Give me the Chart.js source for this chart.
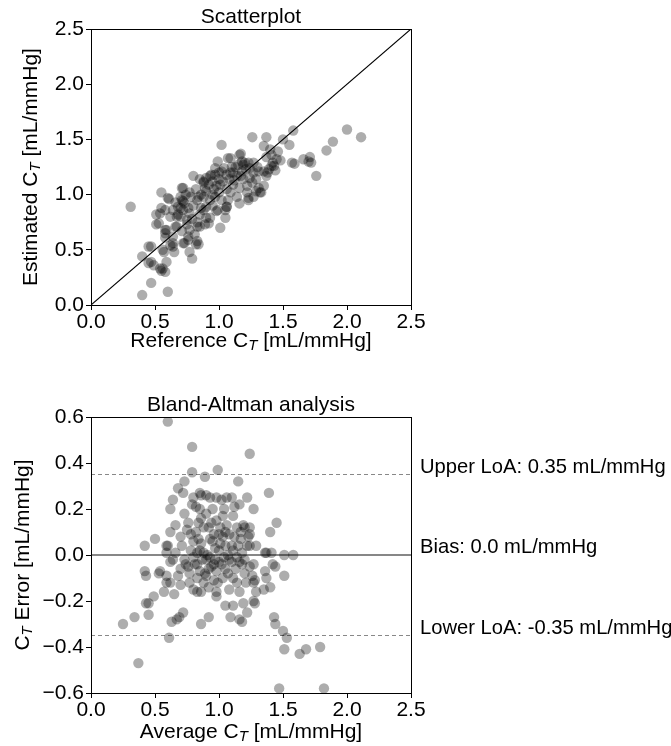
<!DOCTYPE html>
<html>
<head>
<meta charset="utf-8">
<script src="https://cdn.jsdelivr.net/npm/chart.js@4.4.1/dist/chart.umd.min.js"></script>
<style>
  html, body { margin: 0; padding: 0; background: #fff; }
  #wrap { position: relative; width: 671px; height: 746px; }
  canvas { position: absolute; left: 0; }
</style>
</head>
<body>
<div id="wrap">
  <canvas id="scatterCanvas" width="671" height="373" style="top:0"></canvas>
  <canvas id="baCanvas" width="671" height="373" style="top:373px"></canvas>
</div>
<script>
// Reference vs. estimated total arterial compliance C_T (mL/mmHg)
const referenceCT = [
  0.31,0.40,0.60,0.47,0.40,0.47,0.45,0.54,0.59,0.55,0.58,0.57,0.65,0.77,0.79,0.83,0.82,0.73,0.64,0.58,
  0.62,0.53,0.51,0.55,0.55,0.61,0.58,0.59,0.58,0.76,0.72,0.76,0.84,0.64,0.64,0.56,0.49,0.45,0.56,0.47,
  1.26,1.37,1.58,1.50,1.02,1.89,1.35,1.40,1.46,1.55,1.84,1.16,1.41,1.71,1.09,0.99,1.19,1.23,1.27,1.37,
  1.45,1.42,1.57,1.59,1.66,1.70,1.18,1.20,1.76,2.00,2.11,1.07,1.17,1.48,1.43,1.38,1.72,
  1.21,1.41,1.39,1.31,1.35,1.37,1.14,1.11,1.09,1.06,0.97,0.93,0.90,0.80,1.27,1.18,1.02,1.24,0.88,1.00,
  1.03,0.98,1.01,1.19,1.26,1.29,1.35,1.16,1.22,0.96,0.72,1.06,1.11,0.89,0.92,0.85,0.94,0.88,0.71,
  0.77,0.70,0.71,0.73,0.93,0.97,1.02,1.09,1.14,1.22,1.32,1.27,1.23,1.16,1.07,0.68,0.83,0.88,0.60,0.72,
  0.84,0.90,0.72,0.70,0.68,0.85,0.88,0.90,0.99,1.05,1.06,1.05,0.93,0.77,0.86,0.98,0.70,0.67,0.54,
  0.67,0.75,0.77,0.83,0.92,0.89,1.01,0.51,0.71,0.58,0.66,0.75,0.85,
  0.95,1.00,1.04,1.13,1.17,1.24,0.82,0.78,0.86,0.95,1.00,0.80,0.76,0.62,0.64,0.79,0.95,1.12,1.30,1.44,
  0.74,0.66,0.97,1.08,1.31,1.33,1.29,1.23,1.06,0.90,0.83,0.81,1.10,1.15
];
const estimatedCT = [
  0.89,0.09,0.12,0.20,0.44,0.53,0.38,0.33,0.39,0.31,0.30,0.48,0.48,0.48,0.42,0.58,0.55,0.56,0.56,0.61,
  0.54,0.74,0.82,0.88,1.02,0.96,0.86,0.68,0.65,0.62,0.56,0.59,0.55,0.62,0.53,0.50,0.36,0.53,0.33,0.39,
  1.52,1.52,1.58,1.50,1.45,1.48,1.44,1.41,1.39,1.45,1.40,1.36,1.36,1.34,1.33,1.30,1.27,1.29,1.29,1.34,
  1.32,1.29,1.29,1.28,1.32,1.30,1.30,1.29,1.17,1.59,1.52,1.33,1.37,1.31,1.26,1.20,1.29,
  1.23,1.26,1.23,1.21,1.21,1.17,1.17,1.20,1.20,1.18,1.18,1.17,1.15,1.17,1.20,1.21,1.21,1.15,1.11,1.14,
  1.12,1.08,1.09,1.14,1.11,1.14,1.08,1.06,1.08,1.05,1.06,1.05,1.09,1.06,1.09,1.14,1.18,1.12,1.06,
  1.02,0.98,0.95,0.92,0.95,0.98,0.95,1.02,0.98,1.02,1.02,0.98,0.95,0.92,0.95,0.89,0.95,0.98,0.97,0.94,
  0.98,1.03,0.86,0.80,0.82,0.82,0.86,0.89,0.86,0.86,0.89,0.79,0.79,0.83,0.88,0.85,0.88,0.80,0.83,
  0.71,0.77,0.68,0.71,0.74,0.73,0.70,0.73,0.67,0.68,0.71,0.73,0.71,
  1.12,1.20,1.24,1.25,1.17,1.24,1.05,0.98,1.00,1.00,1.02,0.90,0.88,0.80,0.86,0.78,0.90,1.13,1.25,1.22,
  1.00,0.93,1.24,1.14,1.06,1.02,1.03,0.97,0.89,0.79,0.75,0.64,1.25,1.27
];

// Bland-Altman: mean of both methods and estimation error
const averageCT = [
  0.60,0.79,1.24,0.79,0.89,0.99,1.15,0.73,0.68,0.64,0.62,0.72,0.80,0.85,0.90,0.98,1.02,1.06,1.10,1.22,
  1.39,1.27,1.45,1.40,0.79,0.82,0.90,0.98,1.01,1.06,1.03,1.11,1.14,1.20,1.24,1.22,1.10,1.01,0.93,0.86,
  0.80,0.76,0.75,0.70,0.62,0.66,0.60,0.50,0.42,0.71,0.83,0.85,1.36,1.41,1.29,1.37,1.51,1.58,0.66,0.84,
  0.93,0.86,1.19,1.24,1.23,1.05,1.15,1.24,0.97,0.88,0.59,0.59,0.84,0.96,1.08,1.17,0.92,1.12,0.95,1.00,
  1.18,0.78,0.91,1.07,
  0.42,0.54,0.62,0.70,0.77,0.83,0.90,0.96,1.05,1.18,1.27,1.36,1.42,1.37,1.51,1.28,1.40,1.35,1.29,1.27,
  1.43,1.44,1.50,1.53,1.51,1.63,1.68,1.79,1.47,1.82,
  0.43,0.53,0.59,0.64,0.74,0.81,0.59,0.62,0.70,0.77,0.80,0.83,0.57,0.65,0.49,0.43,0.45,0.45,0.34,0.25,
  0.72,0.69,0.67,0.63,0.86,0.61,0.37,
  0.89,0.94,0.98,1.03,1.02,1.10,1.24,1.11,1.14,1.16,1.26,1.27,0.98,0.98,0.86,1.28,1.05,1.11,1.19,1.22,
  1.09,1.16,1.18,0.92,0.96,1.44,
  0.87,0.93,1.00,1.08,1.14,0.80,0.73,1.20,0.85,1.13,0.99,0.92,
  0.82,0.88,0.94,1.00,1.05,1.12,1.17,0.78,0.86,1.03,0.90,0.97,1.04,1.11,1.16,0.83,0.92,1.07,1.20,0.76,
  0.68,0.88,1.08,1.21,0.73,0.85,1.04,1.16,0.95
];
const errorCT = [
  0.58,0.47,0.44,0.36,0.34,0.37,0.32,0.32,0.29,0.24,0.20,0.27,0.25,0.27,0.26,0.25,0.24,0.25,0.25,0.25,
  0.27,0.20,0.14,0.10,0.22,0.21,0.18,0.15,0.12,0.13,0.08,0.17,0.12,0.12,0.09,0.04,0.04,0.05,0.07,0.05,
  0.06,0.14,0.11,0.08,0.10,0.01,0.04,0.07,0.04,0.04,0.01,0.02,0.01,0.01,0.04,0.01,0.00,0.00,0.13,0.14,
  0.25,0.26,0.13,0.12,0.08,0.04,0.04,0.04,0.03,0.01,0.01,0.04,0.07,0.09,0.09,0.07,0.12,0.21,0.20,0.02,
  0.01,0.02,0.00,0.00,
  -0.07,-0.07,-0.03,-0.06,-0.08,-0.04,-0.09,-0.04,-0.06,-0.04,-0.04,-0.07,-0.04,-0.10,-0.09,-0.11,-0.14,-0.15,-0.16,-0.20,
  -0.27,-0.30,-0.33,-0.36,-0.41,-0.43,-0.41,-0.40,-0.58,-0.58,
  -0.09,-0.08,-0.09,-0.02,-0.04,-0.04,-0.12,-0.12,-0.13,-0.12,-0.15,-0.16,-0.16,-0.17,-0.18,-0.21,-0.21,-0.26,-0.27,-0.30,
  -0.25,-0.27,-0.28,-0.29,-0.30,-0.36,-0.47,
  -0.08,-0.05,-0.07,-0.10,-0.04,-0.03,-0.05,-0.10,-0.12,-0.16,-0.09,-0.12,-0.16,-0.18,-0.16,-0.21,-0.22,-0.22,-0.21,-0.25,
  -0.27,-0.28,-0.29,-0.27,-0.11,-0.05,
  -0.02,-0.01,-0.03,-0.02,-0.01,-0.01,-0.02,-0.02,-0.07,-0.06,-0.12,-0.14,
  0.10,0.12,0.14,0.09,0.10,0.08,0.10,0.09,0.16,0.17,-0.02,-0.02,-0.01,0.02,-0.03,-0.10,-0.06,-0.08,-0.08,-0.05,
  -0.09,-0.12,-0.15,-0.12,0.18,0.20,0.20,0.22,0.06
];

const xTickValues = [0.0, 0.5, 1.0, 1.5, 2.0, 2.5];
const scatterYTickValues = [0.0, 0.5, 1.0, 1.5, 2.0, 2.5];
const errorTickValues = [-0.6, -0.4, -0.2, 0.0, 0.2, 0.4, 0.6];
const identityLine = [0.0, 2.5];
const meanBias = 0.0;
const upperLoA = 0.35;
const lowerLoA = -0.35;

const FONT = '"Liberation Sans", Arial, Helvetica, sans-serif';
const TEXT_SIZE = 21;
const NOTE_SIZE = 20.2;
const DOT = 'rgba(0,0,0,0.32)';

function fmtTick(v) {
  const s = Math.abs(v).toFixed(1);
  return v < -1e-9 ? '\u2212' + s : s;
}

// Text with a subscript "T" after the C
function drawRich(ctx, parts, x, y, rotate) {
  ctx.save();
  ctx.translate(x, y);
  if (rotate) ctx.rotate(-Math.PI / 2);
  const normal = `${TEXT_SIZE}px ${FONT}`;
  const sub = `italic ${Math.round(TEXT_SIZE * 0.7)}px ${FONT}`;
  let total = 0;
  const widths = parts.map(p => {
    ctx.font = p.sub ? sub : normal;
    const w = ctx.measureText(p.t).width;
    total += w;
    return w;
  });
  let cx = -total / 2;
  ctx.fillStyle = '#000';
  ctx.textBaseline = 'middle';
  ctx.textAlign = 'left';
  parts.forEach((p, i) => {
    ctx.font = p.sub ? sub : normal;
    ctx.fillText(p.t, cx, p.sub ? 5 : 0);
    cx += widths[i];
  });
  ctx.restore();
}

function axisScale(ticks, min, max, fixedSize, isX) {
  return {
    type: 'linear',
    min: min, max: max,
    afterBuildTicks: s => { s.ticks = ticks.map(v => ({ value: v })); },
    afterFit: s => { if (isX) s.height = fixedSize; else s.width = fixedSize; },
    grid: { display: true, drawOnChartArea: false, drawTicks: true, tickLength: 5, color: '#000', lineWidth: 1 },
    border: { display: true, color: '#000', width: 1 },
    ticks: {
      callback: v => fmtTick(v),
      font: { family: FONT, size: TEXT_SIZE },
      color: '#000',
      padding: isX ? 0 : 2,
      maxRotation: 0,
      autoSkip: false
    }
  };
}

const frameAndText = (cfg) => ({
  id: 'frameAndText',
  afterDatasetsDraw(chart) {
    const ctx = chart.ctx;
    const a = chart.chartArea;
    ctx.save();
    ctx.strokeStyle = '#000';
    ctx.lineWidth = 1;
    ctx.strokeRect(Math.round(a.left) + 0.5, Math.round(a.top) + 0.5,
                   Math.round(a.right - a.left), Math.round(a.bottom - a.top));
    ctx.restore();
  },
  afterDraw(chart) {
    const ctx = chart.ctx;
    const a = chart.chartArea;
    const cx = (a.left + a.right) / 2;
    ctx.save();
    ctx.fillStyle = '#000';
    ctx.font = `${TEXT_SIZE}px ${FONT}`;
    ctx.textAlign = 'center';
    ctx.textBaseline = 'alphabetic';
    ctx.fillText(cfg.title, cx, a.top - 6);
    ctx.restore();
    drawRich(ctx, cfg.xTitle, cx, a.bottom + cfg.xTitleGap, false);
    drawRich(ctx, cfg.yTitle, cfg.yTitleX, (a.top + a.bottom) / 2, true);
    if (cfg.notes) cfg.notes(chart);
  }
});

// Top: scatterplot with identity line
new Chart(document.getElementById('scatterCanvas'), {
  type: 'scatter',
  data: {
    datasets: [
      {
        data: referenceCT.map((r, i) => ({ x: r, y: estimatedCT[i] })),
        backgroundColor: DOT, borderWidth: 0, pointRadius: 5.2
      },
      {
        type: 'line',
        data: identityLine.map(v => ({ x: v, y: v })),
        borderColor: '#000', borderWidth: 1.1, pointRadius: 0, fill: false
      }
    ]
  },
  options: {
    responsive: false, animation: false, events: [],
    layout: { padding: { left: 0, right: 260, top: 29, bottom: 0 } },
    plugins: { legend: { display: false }, tooltip: { enabled: false } },
    scales: {
      x: axisScale(xTickValues, 0, 2.5, 68, true),
      y: axisScale(scatterYTickValues, 0, 2.5, 91, false)
    }
  },
  plugins: [frameAndText({
    title: 'Scatterplot',
    xTitle: [{ t: 'Reference C' }, { t: 'T', sub: true }, { t: ' [mL/mmHg]' }],
    yTitle: [{ t: 'Estimated C' }, { t: 'T', sub: true }, { t: ' [mL/mmHg]' }],
    xTitleGap: 36,
    yTitleX: 31
  })]
});

// Bottom: Bland-Altman with bias and limits of agreement
const hLine = (y, color, dash, width) => ({
  type: 'line',
  data: identityLine.map(x => ({ x: x, y: y })),
  borderColor: color, borderWidth: width, borderDash: dash, pointRadius: 0, fill: false
});

new Chart(document.getElementById('baCanvas'), {
  type: 'scatter',
  data: {
    datasets: [
      {
        data: averageCT.map((m, i) => ({ x: m, y: errorCT[i] })),
        backgroundColor: DOT, borderWidth: 0, pointRadius: 5.2
      },
      hLine(meanBias, '#111', [], 1.2),
      hLine(upperLoA, '#888', [4, 3], 1),
      hLine(lowerLoA, '#888', [4, 3], 1)
    ]
  },
  options: {
    responsive: false, animation: false, events: [],
    layout: { padding: { left: 0, right: 260, top: 44, bottom: 0 } },
    plugins: { legend: { display: false }, tooltip: { enabled: false } },
    scales: {
      x: axisScale(xTickValues, 0, 2.5, 53, true),
      y: axisScale(errorTickValues, -0.6, 0.6, 91, false)
    }
  },
  plugins: [frameAndText({
    title: 'Bland-Altman analysis',
    xTitle: [{ t: 'Average C' }, { t: 'T', sub: true }, { t: ' [mL/mmHg]' }],
    yTitle: [{ t: 'C' }, { t: 'T', sub: true }, { t: ' Error [mL/mmHg]' }],
    xTitleGap: 39,
    yTitleX: 23,
    notes(chart) {
      const ctx = chart.ctx;
      const xs = chart.scales.x, ys = chart.scales.y;
      const x = xs.getPixelForValue(2.57);
      ctx.save();
      ctx.fillStyle = '#000';
      ctx.font = `${NOTE_SIZE}px ${FONT}`;
      ctx.textAlign = 'left';
      ctx.textBaseline = 'alphabetic';
      ctx.fillText(`Upper LoA: ${upperLoA.toFixed(2)} mL/mmHg`, x, ys.getPixelForValue(upperLoA) - 2);
      ctx.fillText(`Bias: ${meanBias.toFixed(1)} mL/mmHg`, x, ys.getPixelForValue(meanBias) - 2);
      ctx.fillText(`Lower LoA: ${lowerLoA.toFixed(2)} mL/mmHg`, x, ys.getPixelForValue(lowerLoA) - 2);
      ctx.restore();
    }
  })]
});
</script>
</body>
</html>
